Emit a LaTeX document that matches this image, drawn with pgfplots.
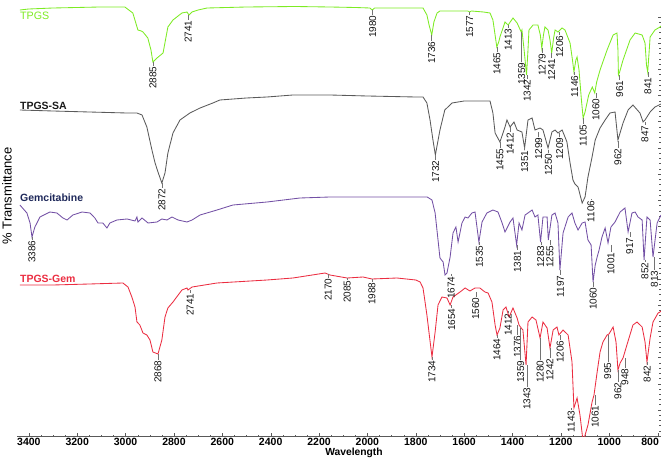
\documentclass[border=0pt]{standalone}
\usepackage{fontspec}
\setmainfont{Liberation Sans}
\usepackage{pgfplots}
\pgfplotsset{compat=1.18}
\definecolor{cgreen}{RGB}{125,235,35}
\definecolor{cgray}{RGB}{90,90,90}
\definecolor{cpurple}{RGB}{115,80,165}
\definecolor{cnavy}{RGB}{30,40,90}
\definecolor{cred}{RGB}{235,45,65}
\newcommand{\pk}[4]{%
  \draw[black!55,line width=0.5pt] (axis cs:#1,#2) -- (axis cs:#1,#3);
  \node[rotate=90,anchor=east,inner sep=0.4pt,font=\fontsize{10}{11}\selectfont,text=black!92] at (axis cs:#1,#3) {#4};}
\begin{document}
\begin{tikzpicture}
\begin{axis}[
  name=ax,
  scale only axis, width=644pt, height=436pt,
  x dir=reverse, xmin=786, xmax=3449, ymin=-436, ymax=0,
  axis x line=bottom, axis y line=right,
  axis line style={-, draw=black!65},
  xtick={800,1000,...,3400},
  xticklabels={{\hspace*{-15pt}800},1000,1200,1400,1600,1800,2000,2200,2400,2600,2800,3000,3200,3400},
  minor x tick num=3,
  ytick={-436,-409.8,...,-16}, yticklabels={},
  minor y tick num=4,
  tick align=inside,
  major tick length=3pt, minor tick length=1.5pt,
  tick style={black!65},
  xticklabel style={font=\bfseries\fontsize{10.5}{12}\selectfont, inner sep=1.5pt},
]
% TPGS
\addplot[cgreen, line width=0.85pt] coordinates {
(3437,-10) (3400,-9) (3300,-8) (3106,-7) (3003,-7) (2970,-13) (2949,-30) (2935,-31) (2928,-32) (2908,-38) (2895,-50) (2887,-62) (2870,-58) (2845,-53) (2825,-27) (2804,-20) (2767,-13) (2746,-12) (2738,-15) (2725,-12) (2700,-10) (2663,-8) (2500,-7) (2300,-6.5) (2155,-7) (2050,-7.5) (1990,-8) (1980,-10) (1970,-8) (1800,-8) (1770,-8) (1754,-15) (1745,-25) (1734,-35) (1725,-22) (1712,-13) (1700,-11) (1600,-11) (1585,-11) (1577,-12) (1570,-11) (1520,-12) (1493,-13) (1481,-20) (1472,-35) (1465,-47) (1457,-42) (1452,-37) (1431,-22) (1418,-25) (1398,-18) (1381,-23) (1364,-32) (1361,-30) (1352,-50) (1342,-75) (1336,-50) (1332,-30) (1315,-25) (1295,-25) (1285,-35) (1279,-48) (1272,-35) (1266,-27) (1253,-30) (1245,-40) (1238,-53) (1230,-38) (1224,-30) (1212,-32) (1195,-28) (1183,-30) (1162,-43) (1152,-60) (1146,-72) (1138,-60) (1133,-57) (1125,-70) (1115,-100) (1108,-118) (1100,-112) (1085,-95) (1070,-87) (1060,-93) (1052,-82) (1038,-70) (1009,-50) (984,-35) (968,-33) (964,-50) (962,-75) (957,-72) (943,-60) (914,-40) (893,-33) (864,-35) (852,-43) (846,-65) (841,-72) (836,-55) (831,-37) (811,-30) (790,-27) (786,-26)
};
% TPGS-SA
\addplot[cgray, line width=0.85pt] coordinates {
(3437,-110) (3300,-111) (3150,-112) (2995,-113) (2953,-113) (2932,-115) (2912,-127) (2891,-150) (2878,-163) (2866,-172) (2850,-183) (2837,-173) (2825,-153) (2804,-133) (2775,-120) (2734,-113) (2692,-108) (2639,-103) (2610,-100) (2500,-98) (2415,-97) (2308,-95) (2155,-95) (2000,-96) (1800,-97) (1770,-97) (1754,-103) (1741,-120) (1729,-140) (1719,-155) (1700,-130) (1680,-110) (1650,-103) (1600,-101) (1493,-101) (1481,-113) (1472,-133) (1452,-142) (1431,-127) (1423,-120) (1410,-127) (1394,-122) (1381,-130) (1361,-132) (1350,-148) (1336,-120) (1319,-118) (1307,-130) (1286,-128) (1274,-130) (1253,-148) (1237,-132) (1224,-130) (1212,-133) (1195,-130) (1183,-137) (1175,-142) (1162,-163) (1150,-180) (1142,-184) (1129,-187) (1112,-203) (1100,-197) (1088,-177) (1071,-157) (1058,-140) (1038,-128) (1017,-120) (997,-113) (976,-112) (964,-140) (943,-123) (922,-110) (902,-105) (873,-113) (860,-122) (852,-120) (831,-112) (811,-107) (786,-104)
};
% Gemcitabine
\addplot[cpurple, line width=0.85pt] coordinates {
(3437,-205) (3408,-213) (3395,-223) (3387,-237) (3375,-227) (3354,-217) (3313,-212) (3284,-213) (3259,-218) (3242,-220) (3218,-215) (3180,-212) (3147,-213) (3127,-218) (3114,-223) (3094,-223) (3077,-228) (3065,-223) (3036,-220) (2994,-219) (2961,-221) (2953,-217) (2949,-222) (2932,-218) (2907,-223) (2870,-222) (2850,-219) (2829,-220) (2808,-217) (2783,-220) (2746,-222) (2725,-220) (2692,-215) (2622,-210) (2556,-205) (2415,-202) (2279,-198) (2155,-197) (1950,-197) (1753,-197) (1733,-200) (1720,-213) (1708,-240) (1700,-258) (1687,-262) (1679,-275) (1671,-273) (1658,-257) (1646,-233) (1634,-227) (1625,-242) (1609,-223) (1596,-217) (1584,-218) (1568,-213) (1555,-212) (1539,-242) (1526,-222) (1506,-213) (1481,-210) (1460,-212) (1443,-223) (1431,-232) (1410,-222) (1398,-218) (1383,-245) (1373,-223) (1361,-230) (1348,-215) (1336,-213) (1319,-210) (1307,-217) (1295,-215) (1284,-242) (1274,-217) (1257,-217) (1252,-240) (1237,-215) (1224,-213) (1212,-223) (1204,-270) (1191,-233) (1170,-217) (1154,-213) (1142,-223) (1129,-230) (1112,-223) (1100,-222) (1088,-240) (1075,-245) (1067,-282) (1058,-265) (1050,-257) (1042,-250) (1030,-237) (1017,-228) (1005,-243) (993,-227) (976,-222) (955,-212) (935,-208) (922,-232) (906,-213) (893,-212) (881,-217) (864,-220) (856,-260) (844,-217) (831,-220) (819,-257) (802,-223) (790,-217) (786,-215)
};
% TPGS-Gem
\addplot[cred, line width=0.85pt] coordinates {
(3437,-285) (3300,-285) (3150,-284) (3011,-283) (2990,-287) (2974,-297) (2961,-307) (2953,-322) (2941,-325) (2928,-333) (2912,-335) (2899,-340) (2887,-352) (2866,-354) (2850,-340) (2837,-317) (2825,-308) (2804,-302) (2767,-290) (2746,-288) (2742,-290) (2725,-287) (2622,-283) (2415,-280) (2308,-278) (2175,-273) (2155,-275) (2084,-278) (2018,-277) (1981,-279) (1878,-278) (1800,-280) (1782,-282) (1770,-288) (1754,-315) (1733,-357) (1720,-332) (1708,-305) (1692,-297) (1671,-298) (1658,-305) (1646,-297) (1617,-292) (1596,-288) (1576,-291) (1555,-288) (1535,-288) (1514,-292) (1501,-293) (1485,-302) (1472,-325) (1464,-335) (1452,-328) (1439,-310) (1427,-307) (1414,-317) (1398,-308) (1381,-318) (1373,-325) (1364,-328) (1357,-330) (1344,-365) (1336,-322) (1319,-317) (1303,-320) (1286,-338) (1274,-322) (1257,-328) (1245,-348) (1232,-330) (1216,-327) (1208,-335) (1191,-330) (1170,-335) (1154,-362) (1146,-408) (1133,-398) (1121,-415) (1108,-442) (1088,-425) (1071,-402) (1063,-395) (1050,-372) (1038,-352) (1026,-342) (1009,-335) (1001,-334) (984,-327) (972,-342) (964,-370) (955,-363) (943,-358) (927,-345) (902,-325) (885,-322) (864,-327) (852,-342) (844,-362) (831,-338) (819,-322) (798,-313) (790,-312) (786,-311)
};
% series names
\node[anchor=west,inner sep=0pt,font=\fontsize{10.7}{12}\selectfont,text=cgreen] at (axis cs:3437,-16) {TPGS};
\node[anchor=west,inner sep=0pt,font=\bfseries\fontsize{10.5}{12}\selectfont,text=black!90] at (axis cs:3437,-106) {TPGS-SA};
\node[anchor=west,inner sep=0pt,font=\bfseries\fontsize{10.5}{12}\selectfont,text=cnavy] at (axis cs:3437,-198) {Gemcitabine};
\node[anchor=west,inner sep=0pt,font=\bfseries\fontsize{10.5}{12}\selectfont,text=cred] at (axis cs:3437,-279) {TPGS-Gem};
% TPGS peaks
\pk{2887}{-62}{-66}{2885}
\pk{2741}{-15}{-20}{2741}
\pk{1978}{-10}{-15}{1980}
\pk{1734}{-35}{-41}{1736}
\pk{1577}{-12}{-15}{1577}
\pk{1464}{-47}{-52}{1465}
\pk{1418}{-25}{-28}{1413}
\pk{1362}{-32}{-62}{1359}
\pk{1339}{-75}{-79}{1342}
\pk{1277}{-48}{-53}{1279}
\pk{1238}{-53}{-58}{1241}
\pk{1205}{-32}{-35}{1206}
\pk{1143}{-72}{-75}{1146}
\pk{1108}{-118}{-124}{1105}
\pk{1055}{-93}{-98}{1060}
\pk{957}{-75}{-80}{961}
\pk{840}{-72}{-77}{841}
% TPGS-SA peaks
\pk{2850}{-183}{-188}{2872}
\pk{1718}{-155}{-160}{1732}
\pk{1452}{-142}{-148}{1455}
\pk{1410}{-127}{-132}{1412}
\pk{1350}{-147}{-150}{1351}
\pk{1292}{-132}{-137}{1299}
\pk{1251}{-150}{-153}{1250}
\pk{1205}{-133}{-137}{1209}
\pk{1076}{-199}{-200}{1106}
\pk{964}{-141}{-148}{962}
\pk{852}{-122}{-125}{847}
% Gemcitabine peaks
\pk{3387}{-237}{-240}{3386}
\pk{1654}{-274}{-276}{1674}
\pk{1537}{-242}{-245}{1535}
\pk{1380}{-245}{-250}{1381}
\pk{1283}{-242}{-245}{1283}
\pk{1245}{-240}{-245}{1255}
\pk{1202}{-270}{-275}{1197}
\pk{1066}{-282}{-287}{1060}
\pk{993}{-245}{-252}{1001}
\pk{915}{-232}{-237}{917}
\pk{852}{-260}{-262}{852}
\pk{813}{-257}{-270}{813}
% TPGS-Gem peaks
\pk{2866}{-354}{-360}{2868}
\pk{2733}{-290}{-293}{2741}
\pk{2162}{-274}{-278}{2170}
\pk{2084}{-278}{-280}{2085}
\pk{1981}{-279}{-282}{1988}
\pk{1733}{-357}{-360}{1734}
\pk{1652}{-305}{-308}{1654}
\pk{1552}{-292}{-297}{1560}
\pk{1464}{-335}{-338}{1464}
\pk{1418}{-311}{-313}{1412}
\pk{1380}{-325}{-335}{1376}
\pk{1366}{-328}{-360}{1359}
\pk{1340}{-365}{-387}{1343}
\pk{1286}{-338}{-360}{1280}
\pk{1245}{-348}{-358}{1242}
\pk{1203}{-335}{-340}{1206}
\pk{1157}{-408}{-410}{1143}
\pk{1058}{-395}{-405}{1061}
\pk{1006}{-335}{-362}{995}
\pk{964}{-370}{-382}{962}
\pk{935}{-358}{-368}{948}
\pk{843}{-362}{-365}{842}
\end{axis}
\node[anchor=north,inner sep=0pt,font=\bfseries\fontsize{10.3}{12}\selectfont] at ([xshift=15pt,yshift=-11.5pt]ax.south) {Wavelength};
\node[rotate=90,inner sep=0pt,font=\fontsize{13}{15}\selectfont] at ([xshift=-10pt,yshift=22pt]ax.west) {\% Transmittance};
\pgfresetboundingbox
\path ([xshift=-17pt,yshift=-22pt]ax.south west) rectangle (ax.north east);
\end{tikzpicture}
\end{document}
